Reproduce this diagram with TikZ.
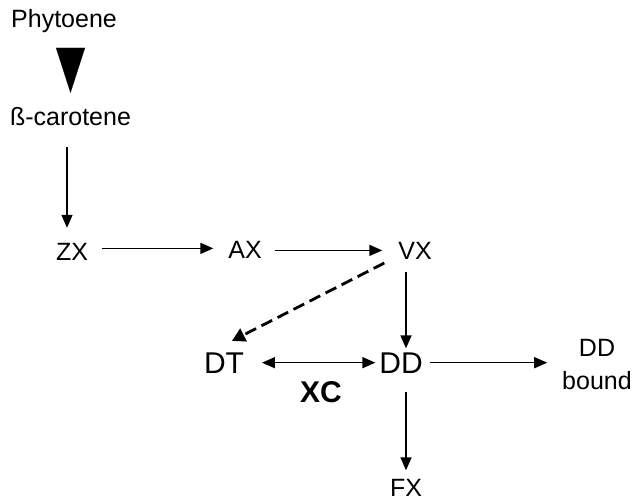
\documentclass[tikz,border=0pt]{standalone}
\usepackage{fontspec}
\setmainfont{Liberation Sans}
\usetikzlibrary{arrows.meta}

\tikzset{
  lbl/.style={font=\fontsize{25}{33}\selectfont, inner sep=0pt, outer sep=0pt},
  big/.style={font=\fontsize{30}{36}\selectfont, inner sep=0pt, outer sep=0pt},
  link/.style={line width=1.6pt, -{Triangle[length=13pt,width=11pt]}},
  dlink/.style={line width=2.8pt, dash pattern=on 12pt off 6pt, -{Triangle[length=13pt,width=14pt]}},
}

\begin{document}
\begin{tikzpicture}[x=1pt,y=-1pt]
  \useasboundingbox (0,0) rectangle (634,502);
  % pigments
  \node[lbl, anchor=base] (phyt)  at (64,28)   {Phytoene};
  \node[lbl, anchor=base] (carot) at (70.5,126) {ß-carotene};
  \node[lbl, anchor=base] (ZX) at (72,261)  {ZX};
  \node[lbl, anchor=base] (AX) at (245,259) {AX};
  \node[lbl, anchor=base] (VX) at (415,260) {VX};
  \node[big, anchor=base] (DT) at (224,373) {DT};
  \node[big, anchor=base] (DD) at (401,373) {DD};
  \node[big, anchor=base, font=\fontsize{30}{36}\selectfont\bfseries] (XC) at (321,402) {XC};
  \node[lbl, align=center] (DDb) at (597,365) {DD\\bound};
  \node[lbl, anchor=base] (FX) at (406,496.5) {FX};
  % big step
  \draw[line width=0.1pt, -{Triangle[length=45pt,width=29pt]}, shorten <=15pt, shorten >=15pt]
    (phyt.south -| carot.north) -- (carot.north);
  % cycle
  \path[link]
  ([xshift=-3.5pt]carot.south) edge [shorten <=21pt, shorten >=16pt] ([xshift=-3.5pt]carot.south |- ZX.north)
  ([yshift=4pt]ZX.east) edge [shorten <=14pt, shorten >=15pt] ([yshift=4pt]ZX.east -| AX.west)
  (AX.east) edge [shorten <=13pt, shorten >=16pt] (AX.east -| VX.west)
  (VX.south -| FX) edge [shorten <=12pt, shorten >=4pt] (DD.north -| FX)
  (DD.south -| FX) edge [shorten <=19pt, shorten >=9pt] (FX.north)
  (DD.east) edge [shorten <=7pt, shorten >=15pt] (DD.east -| DDb.west)
  (DT.east) edge [{Triangle[length=13pt,width=11pt]}-{Triangle[length=13pt,width=11pt]}, shorten <=18pt, shorten >=4pt] (DT.east -| DD.west)
  ;
  \draw[dlink] ([shift={(-14pt,-3pt)}]VX.south west) -- ([shift={(-12pt,11.5pt)}]DT.north east);
\end{tikzpicture}
\end{document}
